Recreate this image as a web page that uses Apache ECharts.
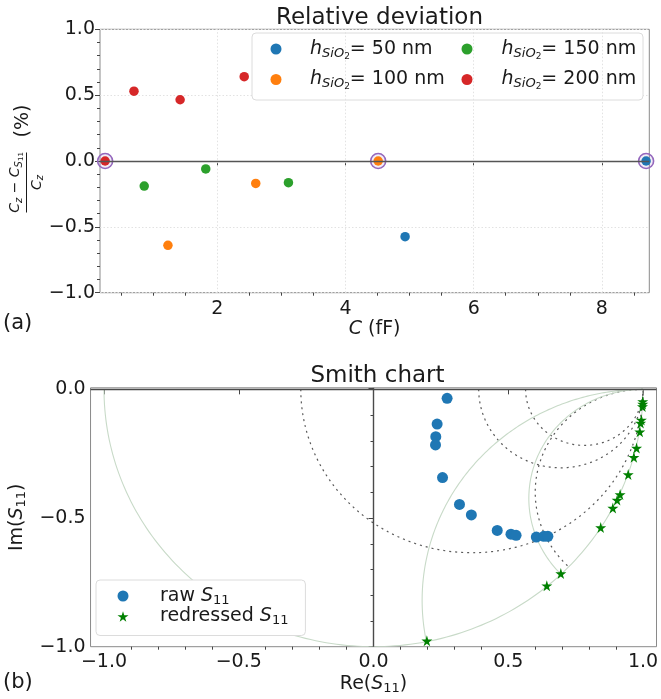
<!DOCTYPE html>
<html>
<head>
<meta charset="utf-8">
<script src="https://cdn.jsdelivr.net/npm/echarts@6/dist/echarts.min.js"></script>
<style>html,body{margin:0;padding:0;background:#fff}#c{width:661px;height:699px}</style>
</head>
<body>
<div id="c"></div>
<script>
// ---------- DATA: (a) relative deviation ----------
const legendColA = ['50', '100'];
const legendColB = ['150', '200'];
const dev50  = [[4.93, -0.575], [8.69, 0]];
const dev100 = [[1.23, -0.64], [2.60, -0.17], [4.51, 0]];
const dev150 = [[0.86, -0.19], [1.82, -0.06], [3.11, -0.165]];
const dev200 = [[0.25, 0], [0.70, 0.53], [1.42, 0.465], [2.42, 0.64]];
const refPoints = [[0.25, 0], [4.51, 0], [8.69, 0]];
const topXMajor = [2, 4, 6, 8];
const topXMinor = [0.5, 1, 1.5, 2.5, 3, 3.5, 4.5, 5, 5.5, 6.5, 7, 7.5, 8.5];
const topXGrid = [2, 4, 6, 8];

// ---------- DATA: (b) Smith chart ----------
const rawS11 = [
  [0.273, -0.035], [0.236, -0.135], [0.231, -0.184], [0.230, -0.216],
  [0.256, -0.343], [0.319, -0.447], [0.363, -0.488], [0.459, -0.548],
  [0.510, -0.563], [0.529, -0.567], [0.604, -0.574], [0.632, -0.571],
  [0.647, -0.571]
];
const redressedS11 = [
  [0.999, -0.047], [0.999, -0.057], [0.998, -0.067], [0.994, -0.119],
  [0.991, -0.131], [0.988, -0.165], [0.976, -0.228], [0.966, -0.264],
  [0.945, -0.331], [0.915, -0.409], [0.904, -0.430], [0.888, -0.461],
  [0.843, -0.537], [0.695, -0.716], [0.643, -0.763], [0.198, -0.977]
];
const botXMajor = [-1, -0.5, 0, 0.5, 1];
const botXMinor = [-0.9, -0.8, -0.7, -0.6, -0.4, -0.3, -0.2, -0.1, 0.1, 0.2, 0.3, 0.4, 0.6, 0.7, 0.8, 0.9];
const resistanceDotted = [0.575, 2.28, 3.59];   // constant-resistance circles
const reactanceDotted = [2.5];                   // constant-reactance circles (dotted)
const reactanceSolid = [1.22, 2.36];             // constant-reactance circles (light)

// ---------- build ----------
const FONT = 'DejaVu Sans';
const TXT = '#1a1a1a';
const C = {b:'#1f77b4', o:'#ff7f0e', g:'#2ca02c', r:'#d62728', p:'#9467bd', star:'#008000'};
const STAR = 'path://M50,0 L61,35 L98,35 L68,57 L79,91 L50,70 L21,91 L32,57 L2,35 L39,35 Z';
const fmt1 = v => (v < 0 ? '\u2212' : '') + Math.abs(v).toFixed(1);

// arc definitions: [cx, cy, R, t0(deg), t1(deg), style]
const arcs = [];
arcs.push([0, 0, 1, 180, 360, 1]); // unit circle
resistanceDotted.forEach(r => arcs.push([r / (1 + r), 0, 1 / (1 + r), 180, 360, 0]));
function reactArc(x, style) {
  const a = 1 / x;
  const gx = (x * x - 1) / (x * x + 1), gy = -2 * x / (x * x + 1);
  let te = Math.atan2(gy + a, gx - 1) * 180 / Math.PI;
  if (te < 0) te += 360;
  arcs.push([1, -a, a, 90, te, style]);
}
reactanceDotted.forEach(x => reactArc(x, 0));
reactanceSolid.forEach(x => reactArc(x, 1));

const richSub = {
  i: {fontStyle: 'italic', fontSize: 19, fontFamily: FONT, color: TXT},
  s: {fontStyle: 'italic', fontSize: 13, fontFamily: FONT, color: TXT, padding: [9, 0, 0, 0]},
  ss: {fontSize: 9, fontFamily: FONT, color: TXT, padding: [15, 0, 0, 0]},
  n: {fontSize: 13, fontFamily: FONT, color: TXT, padding: [9, 0, 0, 0]},
  t: {fontSize: 19, fontFamily: FONT, color: TXT}
};

const axisBase = {axisLine: {show: false}, splitLine: {show: false}};
const hFormatter = name => '{i|h}{s|SiO}{ss|2}{t|= ' + name.slice(1) + ' nm}';

function topLegend(cols, left, textPad) {
  return {
    orient: 'vertical', left: left, top: 39.5, height: 62,
    itemWidth: 11, itemHeight: 11, itemGap: 9, padding: 0,
    selectedMode: false, z: 6,
    data: cols.map(t => 'h' + t),
    formatter: hFormatter,
    textStyle: {fontFamily: FONT, fontSize: 19, color: TXT, padding: [0, 0, 0, textPad], rich: richSub}
  };
}

const option = {
  animation: false,
  backgroundColor: '#fff',
  title: [
    {text: 'Relative deviation', left: 374.5, top: 2, textAlign: 'center',
     textStyle: {fontFamily: FONT, fontSize: 23, fontWeight: 'normal', color: TXT}},
    {text: 'Smith chart', left: 372.5, top: 360, textAlign: 'center',
     textStyle: {fontFamily: FONT, fontSize: 23, fontWeight: 'normal', color: TXT}}
  ],
  grid: [
    {left: 100, right: 11.7, top: 29.3, height: 263.4, show: true, borderColor: '#8a8a8a', borderWidth: 1, backgroundColor: 'transparent'},
    {left: 84.6, right: 1.6, top: 387.8, height: 258.9, show: true, borderColor: '#8a8a8a', borderWidth: 1, backgroundColor: 'transparent'}
  ],
  legend: [
    topLegend(legendColA, 270.5, 23.5),
    topLegend(legendColB, 461.5, 24),
    {
      orient: 'vertical', left: 96, top: 580,
      itemWidth: 11, itemHeight: 11, itemGap: 0,
      padding: [6.5, 17, 8, 21.5],
      backgroundColor: '#fff', borderColor: '#dcdcdc', borderWidth: 1, borderRadius: 4,
      selectedMode: false,
      data: ['raw', 'redressed'],
      formatter: name => '{t|' + name + ' }{i|S}{n|11}',
      textStyle: {fontFamily: FONT, fontSize: 19, color: TXT, padding: [0, 0, 0, 26.5], rich: richSub}
    }
  ],
  xAxis: [
    Object.assign({}, axisBase, {
      type: 'value', gridIndex: 0, min: 0.17, max: 8.74, position: 'bottom',
      axisTick: {show: true, customValues: topXMajor, length: 5, lineStyle: {color: '#444'}},
      axisLabel: {customValues: topXMajor, fontFamily: FONT, fontSize: 19, color: TXT, margin: 7},
      name: '{i|C} (fF)', nameLocation: 'middle', nameGap: 25,
      nameTextStyle: {fontFamily: FONT, fontSize: 19, color: TXT, rich: {i: {fontStyle: 'italic', fontSize: 19, fontFamily: FONT, color: TXT}}}
    }),
    Object.assign({}, axisBase, {
      type: 'value', gridIndex: 0, min: 0.17, max: 8.74, position: 'bottom',
      axisTick: {show: true, customValues: topXMinor, length: 3, lineStyle: {color: '#444'}},
      axisLabel: {show: false}
    }),
    Object.assign({}, axisBase, {
      type: 'value', gridIndex: 1, min: -1.05, max: 1.05, position: 'bottom',
      axisTick: {show: true, customValues: botXMajor, length: 5, lineStyle: {color: '#444'}},
      axisLabel: {customValues: botXMajor, formatter: fmt1, fontFamily: FONT, fontSize: 19, color: TXT, margin: 6},
      name: 'Re({i|S}{n|11})', nameLocation: 'middle', nameGap: 26,
      nameTextStyle: {fontFamily: FONT, fontSize: 19, color: TXT, rich: richSub}
    }),
    Object.assign({}, axisBase, {
      type: 'value', gridIndex: 1, min: -1.05, max: 1.05, position: 'bottom',
      axisTick: {show: true, customValues: botXMinor, length: 3, lineStyle: {color: '#444'}},
      axisLabel: {show: false}
    })
  ],
  yAxis: [
    {
      type: 'value', gridIndex: 0, min: -1, max: 1, interval: 0.5,
      axisLine: {show: false},
      axisTick: {show: true, length: 5, lineStyle: {color: '#444'}},
      minorTick: {show: true, splitNumber: 5, length: 3, lineStyle: {color: '#444'}},
      axisLabel: {formatter: fmt1, fontFamily: FONT, fontSize: 19, color: TXT, margin: 5},
      splitLine: {show: true, lineStyle: {color: '#e2e2e2', type: [1.5, 2], width: 1}}
    },
    {
      type: 'value', gridIndex: 1, min: -1, max: 0.006, interval: 0.5,
      axisLine: {show: false},
      axisTick: {show: true, length: 5, lineStyle: {color: '#444'}},
      minorTick: {show: true, splitNumber: 5, length: 3, lineStyle: {color: '#444'}},
      axisLabel: {formatter: fmt1, fontFamily: FONT, fontSize: 19, color: TXT, margin: 5, showMaxLabel: false},
      splitLine: {show: false},
      name: 'Im({i|S}{n|11})', nameLocation: 'middle', nameGap: 53, nameRotate: 90,
      nameTextStyle: {fontFamily: FONT, fontSize: 19, color: TXT, rich: richSub}
    }
  ],
  series: [
    {
      type: 'scatter', name: 'ref', xAxisIndex: 0, yAxisIndex: 0, data: refPoints,
      symbol: 'circle', symbolSize: 15, z: 3,
      itemStyle: {color: 'rgba(148,103,189,0.12)', borderColor: C.p, borderWidth: 1.6, opacity: 1},
      markLine: {
        silent: true, symbol: ['none', 'none'], label: {show: false},
        data: topXGrid.map(v => ({xAxis: v, lineStyle: {color: '#e2e2e2', type: [1.5, 2], width: 1}}))
          .concat([{yAxis: 0, lineStyle: {color: '#555', type: 'solid', width: 1.4}}])
      }
    },
    {type: 'scatter', name: 'h50', xAxisIndex: 0, yAxisIndex: 0, data: dev50, symbolSize: 9.5, z: 4, itemStyle: {color: C.b, opacity: 1}},
    {type: 'scatter', name: 'h100', xAxisIndex: 0, yAxisIndex: 0, data: dev100, symbolSize: 9.5, z: 4, itemStyle: {color: C.o, opacity: 1}},
    {type: 'scatter', name: 'h150', xAxisIndex: 0, yAxisIndex: 0, data: dev150, symbolSize: 9.5, z: 4, itemStyle: {color: C.g, opacity: 1}},
    {type: 'scatter', name: 'h200', xAxisIndex: 0, yAxisIndex: 0, data: dev200, symbolSize: 9.5, z: 4, itemStyle: {color: C.r, opacity: 1}},
    {
      type: 'custom', name: 'grid', xAxisIndex: 2, yAxisIndex: 1, data: arcs, clip: true, z: 2,
      silent: true,
      renderItem: function (params, api) {
        const cx = api.value(0), cy = api.value(1), R = api.value(2), t0 = api.value(3), t1 = api.value(4), st = api.value(5);
        const pts = [];
        const n = 160;
        for (let k = 0; k <= n; k++) {
          const t = (t0 + (t1 - t0) * k / n) * Math.PI / 180;
          pts.push(api.coord([cx + R * Math.cos(t), cy + R * Math.sin(t)]));
        }
        return {
          type: 'polyline', shape: {points: pts},
          style: st === 0
            ? {stroke: '#5a5a5a', lineWidth: 1.2, lineDash: [2, 4], fill: null}
            : {stroke: '#c8dac8', lineWidth: 1.1, fill: null}
        };
      }
    },
    {
      type: 'scatter', name: 'raw', xAxisIndex: 2, yAxisIndex: 1, data: rawS11,
      symbol: 'circle', symbolSize: 11, z: 4, itemStyle: {color: C.b, opacity: 1},
      markLine: {
        silent: true, symbol: ['none', 'none'], label: {show: false},
        lineStyle: {color: '#4a4a4a', type: 'solid', width: 1.4},
        data: [{xAxis: 0}, {yAxis: 0}]
      }
    },
    {
      type: 'scatter', name: 'redressed', xAxisIndex: 2, yAxisIndex: 1, data: redressedS11,
      symbol: STAR, symbolSize: 11, z: 5, itemStyle: {color: C.star, opacity: 1}
    }
  ],
  graphic: [
    {type: 'rect', z: 5, shape: {x: 252, y: 33, width: 391, height: 67, r: 4},
     style: {fill: '#fff', stroke: '#dcdcdc', lineWidth: 1}},
    {type: 'text', left: 3, top: 313, style: {text: '(a)', fontFamily: FONT, fontSize: 21, fill: TXT}},
    {type: 'text', left: 3, top: 672, style: {text: '(b)', fontFamily: FONT, fontSize: 21, fill: TXT}},
    {
      type: 'group', x: 26.5, y: 182.5, rotation: Math.PI / 2,
      children: [
        {type: 'text', style: {
          text: '{c|C}{z|z}{m| \u2212 }{c|C}{z|S}{y|11}', x: 0, y: -2, align: 'center', verticalAlign: 'bottom',
          rich: {
            c: {fontStyle: 'italic', fontSize: 14, fontFamily: FONT, fill: TXT},
            z: {fontStyle: 'italic', fontSize: 10, fontFamily: FONT, fill: TXT, padding: [7, 0, 0, 0]},
            y: {fontSize: 7, fontFamily: FONT, fill: TXT, padding: [11, 0, 0, 0]},
            m: {fontSize: 14, fontFamily: FONT, fill: TXT}
          }}},
        {type: 'line', shape: {x1: -30, y1: 0, x2: 30, y2: 0}, style: {stroke: TXT, lineWidth: 1}},
        {type: 'text', style: {
          text: '{c|C}{z|z}', x: 0, y: 2, align: 'center', verticalAlign: 'top',
          rich: {
            c: {fontStyle: 'italic', fontSize: 14, fontFamily: FONT, fill: TXT},
            z: {fontStyle: 'italic', fontSize: 10, fontFamily: FONT, fill: TXT, padding: [7, 0, 0, 0]}
          }}},
        {type: 'text', style: {text: '(%)', x: 61.5, y: -3, align: 'center', verticalAlign: 'middle', fontFamily: FONT, fontSize: 19, fill: TXT}}
      ]
    }
  ]
};

const chart = echarts.init(document.getElementById('c'), null, {renderer: 'canvas'});
chart.setOption(option);
</script>
</body>
</html>
